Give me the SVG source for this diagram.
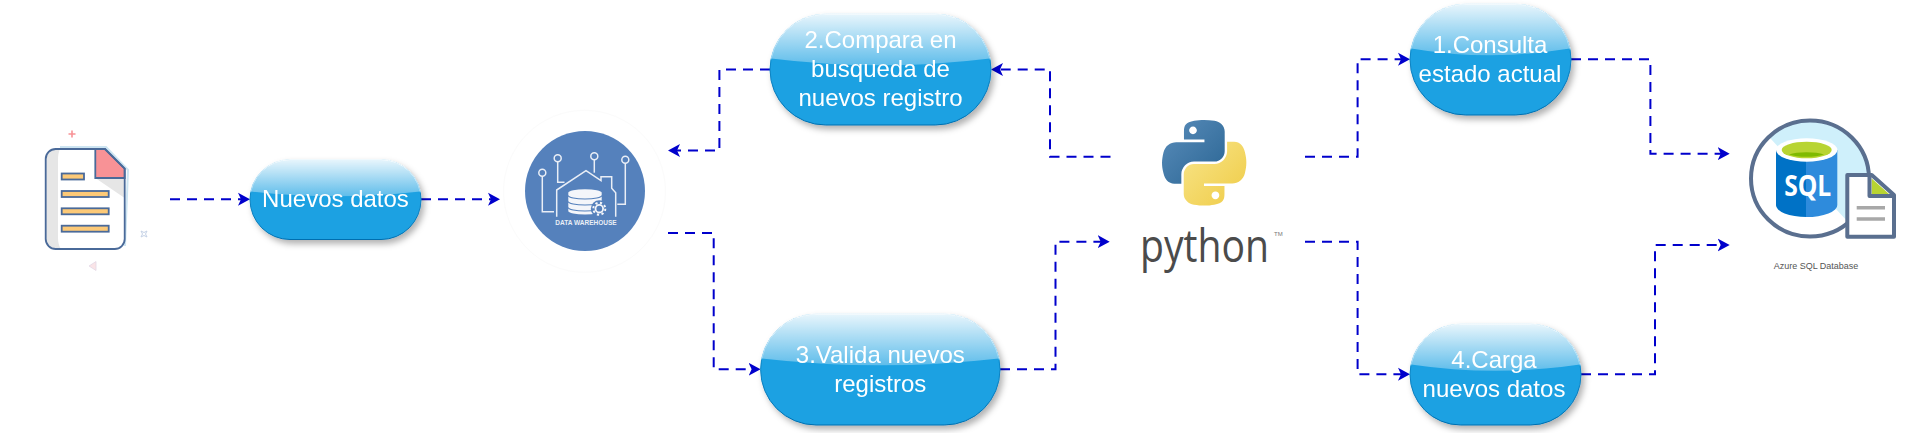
<svg xmlns="http://www.w3.org/2000/svg" width="1914" height="433" viewBox="0 0 1914 433">
  <style>
    .conn { fill: none; stroke: #0000CC; stroke-width: 2; stroke-dasharray: 10 7; marker-end: url(#arrow); }
    .pill { fill: #1BA1E2; stroke: url(#edge); stroke-width: 1; }
    .gloss { fill: url(#glass); }
    .label { font-family: "Liberation Sans", Arial, sans-serif; font-size: 24px; fill: #FFFFFF; text-anchor: middle; }
    .bar { fill: #FCC977; stroke: #4A6A99; stroke-width: 1.8; }
    .wire { fill: none; stroke: #E9EEF6; stroke-width: 1.5; }
    .sqlline { fill: none; stroke: #5A6F8F; stroke-width: 4; stroke-linejoin: round; }
  </style>
  <defs>
    <marker id="arrow" markerUnits="userSpaceOnUse" markerWidth="14" markerHeight="14" refX="9" refY="7" orient="auto">
      <path d="M0 0.5 L12 7 L0 13.5 L3 7 Z" fill="#0000CC"/>
    </marker>
    <linearGradient id="glass" x1="0" y1="0" x2="0" y2="1">
      <stop offset="0" stop-color="#FFFFFF" stop-opacity="0.9"/>
      <stop offset="1" stop-color="#FFFFFF" stop-opacity="0.3"/>
    </linearGradient>
    <linearGradient id="edge" x1="0" y1="0" x2="0" y2="1">
      <stop offset="0" stop-color="#E4F4FC"/>
      <stop offset="0.4" stop-color="#7CC8EE"/>
      <stop offset="0.42" stop-color="#0E88C8"/>
      <stop offset="1" stop-color="#006EAF"/>
    </linearGradient>
    <linearGradient id="pyblue" x1="0" y1="0" x2="1" y2="1">
      <stop offset="0" stop-color="#5A8DBB"/>
      <stop offset="1" stop-color="#2A6593"/>
    </linearGradient>
    <linearGradient id="pyyellow" x1="1" y1="1" x2="0" y2="0">
      <stop offset="0" stop-color="#F8E58A"/>
      <stop offset="1" stop-color="#EFCB45"/>
    </linearGradient>
    <filter id="shadow" x="-10%" y="-10%" width="125%" height="130%">
      <feDropShadow dx="3" dy="4" stdDeviation="3" flood-color="#000000" flood-opacity="0.3"/>
    </filter>
    <clipPath id="ringclip"><ellipse cx="1810" cy="178.5" rx="59" ry="58"/></clipPath>
  </defs>

  <g id="connectors">
    <path class="conn" d="M170 199.3 H247"/>
    <path class="conn" d="M421 199.3 H497"/>
    <path class="conn" d="M770 69.5 H719.4 V150.5 H671"/>
    <path class="conn" d="M1110.5 156.7 H1050 V69.5 H994"/>
    <path class="conn" d="M668 233 H713.7 V369.3 H757.6"/>
    <path class="conn" d="M1000 369.3 H1055.5 V241.7 H1106.7"/>
    <path class="conn" d="M1305 156.7 H1357.6 V59.3 H1407"/>
    <path class="conn" d="M1571 59.3 H1650.4 V153.7 H1726.7"/>
    <path class="conn" d="M1305 241.7 H1357.6 V374.3 H1407"/>
    <path class="conn" d="M1581 374.3 H1655 V245 H1726.7"/>
  </g>

  <g id="node-file">
    <path d="M60 147 H106 L128 170 L125 246" fill="none" stroke="#CDE5F2" stroke-width="2"/>
    <path d="M55.7 149 H105 L124.7 168.7 V239 A10 10 0 0 1 114.7 249 H55.7 A10 10 0 0 1 45.7 239 V159 A10 10 0 0 1 55.7 149 Z" fill="#FFFFFF"/>
    <path d="M55.7 149 H60 Q58 153 58 160 V238 Q58 245 61 249 H55.7 A10 10 0 0 1 45.7 239 V159 A10 10 0 0 1 55.7 149 Z" fill="#E6E6E6"/>
    <path d="M95.3 178 H124.7 V198 Z" fill="#E6E6E6"/>
    <path d="M95.3 149 H105 L124.7 168.7 V178 H95.3 Z" fill="#F89296" stroke="#4A6A99" stroke-width="1.8"/>
    <path d="M55.7 149 H105 L124.7 168.7 V239 A10 10 0 0 1 114.7 249 H55.7 A10 10 0 0 1 45.7 239 V159 A10 10 0 0 1 55.7 149 Z" fill="none" stroke="#4A6A99" stroke-width="1.8"/>
    <rect class="bar" x="61.7" y="173.5" width="22.3" height="6"/>
    <rect class="bar" x="61.7" y="191" width="47" height="6"/>
    <rect class="bar" x="61.7" y="208.3" width="47" height="6"/>
    <rect class="bar" x="61.7" y="225.7" width="47" height="6"/>
    <path d="M72 130.5 V137.5 M68.5 134 H75.5" stroke="#F89296" stroke-width="1.6" fill="none"/>
    <path d="M141 231 Q144 234 147 231 Q144 234 147 237 Q144 234 141 237 Q144 234 141 231 Z" fill="none" stroke="#C5D2E6" stroke-width="1"/>
    <path d="M89 266 L96 261.5 L96 270.5 Z" fill="#FAE4E7" stroke="#E2D8E6" stroke-width="0.8"/>
  </g>

  <g id="node-nuevos-datos" filter="url(#shadow)">
    <rect class="pill" x="250" y="159.5" width="171" height="80" rx="40" ry="40"/>
    <path class="gloss" d="M250.8 191.5 A40 40 0 0 1 290 159.5 H381 A40 40 0 0 1 420.2 191.5 Q335.5 201 250.8 191.5 Z"/>
    <text class="label" x="335.5" y="206.7">Nuevos datos</text>
  </g>

  <g id="node-data-warehouse">
    <circle cx="584.5" cy="191.3" r="81" fill="#FFFFFF" stroke="#FBFBFB" stroke-width="1"/>
    <circle cx="585" cy="191" r="60" fill="#5581BC"/>
    <circle class="wire" cx="542.3" cy="172.7" r="3.5"/>
    <circle class="wire" cx="557.7" cy="158.3" r="3.5"/>
    <circle class="wire" cx="594.3" cy="156.3" r="3.5"/>
    <circle class="wire" cx="625.3" cy="159.7" r="3.5"/>
    <path class="wire" d="M542.3 176.2 V211.7 H554"/>
    <path class="wire" d="M557.7 161.8 V182.3 H564.5"/>
    <path class="wire" d="M594.3 159.8 V172.7"/>
    <path class="wire" d="M625.3 163.2 V204.3 H617.3"/>
    <path class="wire" stroke-width="1.8" d="M556.7 216.7 V190 L586 170.7 L601 180.7 V176.7 H611.7 V188.3 L615.7 192.7 V216.7"/>
    <path d="M568.3 192.7 A16.7 3.5 0 0 1 601.7 192.7 V211 A16.7 3.5 0 0 1 568.3 211 Z" fill="#F4F6FA"/>
    <path d="M568.3 195.5 A16.7 3.5 0 0 0 601.7 195.5 M568.3 201.5 A16.7 3.5 0 0 0 601.7 201.5 M568.3 207.5 A16.7 3.5 0 0 0 601.7 207.5" fill="none" stroke="#5581BC" stroke-width="1.2"/>
    <circle cx="599.3" cy="208.7" r="8.5" fill="#5581BC"/>
    <circle cx="599.3" cy="208.7" r="3.8" fill="none" stroke="#F4F6FA" stroke-width="1.8"/>
    <circle cx="599.3" cy="208.7" r="6" fill="none" stroke="#F4F6FA" stroke-width="2" stroke-dasharray="2.2 2.5"/>
    <text x="586" y="225" font-family="'Liberation Sans', Arial, sans-serif" font-size="6.5" font-weight="bold" fill="#E9EEF6" text-anchor="middle">DATA WAREHOUSE</text>
  </g>

  <g id="node-compara" filter="url(#shadow)">
    <rect class="pill" x="770" y="14" width="221" height="111" rx="55.5" ry="55.5"/>
    <path class="gloss" d="M771.1 58.4 A55.5 55.5 0 0 1 825.5 14 H935.5 A55.5 55.5 0 0 1 989.9 58.4 Q880.5 72 771.1 58.4 Z"/>
    <text class="label" x="880.5" y="48">2.Compara en</text>
    <text class="label" x="880.5" y="77">busqueda de</text>
    <text class="label" x="880.5" y="106">nuevos registro</text>
  </g>

  <g id="node-valida" filter="url(#shadow)">
    <rect class="pill" x="760.6" y="314" width="239.4" height="111" rx="55.5" ry="55.5"/>
    <path class="gloss" d="M761.7 358.4 A55.5 55.5 0 0 1 816.1 314 H944.5 A55.5 55.5 0 0 1 998.9 358.4 Q880.3 372 761.7 358.4 Z"/>
    <text class="label" x="880.3" y="363">3.Valida nuevos</text>
    <text class="label" x="880.3" y="392">registros</text>
  </g>

  <g id="node-python">
    <g transform="translate(1161.7 120) scale(0.773 0.778)">
      <path fill="url(#pyblue)" d="M54.9 0 C50.3 0 45.9 0.4 42.1 1.1 C30.8 3.1 28.8 7.2 28.8 14.9 V25.1 H55.3 V28.5 H18.8 C11.1 28.5 4.4 33.1 2.3 41.9 C-0.1 51.9 -0.2 58.2 2.3 68.6 C4.2 76.4 8.6 81.9 16.3 81.9 H25.4 V69.9 C25.4 61.2 32.9 53.5 41.8 53.5 H68.3 C75.6 53.5 81.5 47.4 81.5 40.1 V14.9 C81.5 7.7 75.4 2.3 68.3 1.1 C63.7 0.4 59 0 54.9 0 Z M40.5 8.2 C43.2 8.2 45.5 10.5 45.5 13.3 C45.5 16 43.2 18.2 40.5 18.2 C37.7 18.2 35.5 16 35.5 13.3 C35.5 10.5 37.7 8.2 40.5 8.2 Z"/>
      <path fill="url(#pyyellow)" transform="rotate(180 55 55)" d="M54.9 0 C50.3 0 45.9 0.4 42.1 1.1 C30.8 3.1 28.8 7.2 28.8 14.9 V25.1 H55.3 V28.5 H18.8 C11.1 28.5 4.4 33.1 2.3 41.9 C-0.1 51.9 -0.2 58.2 2.3 68.6 C4.2 76.4 8.6 81.9 16.3 81.9 H25.4 V69.9 C25.4 61.2 32.9 53.5 41.8 53.5 H68.3 C75.6 53.5 81.5 47.4 81.5 40.1 V14.9 C81.5 7.7 75.4 2.3 68.3 1.1 C63.7 0.4 59 0 54.9 0 Z M40.5 8.2 C43.2 8.2 45.5 10.5 45.5 13.3 C45.5 16 43.2 18.2 40.5 18.2 C37.7 18.2 35.5 16 35.5 13.3 C35.5 10.5 37.7 8.2 40.5 8.2 Z"/>
    </g>
    <text transform="translate(1140 262) scale(0.87 1)" font-family="'Open Sans', 'Liberation Sans', sans-serif" font-size="45" font-weight="400" fill="#4B4B4B">python</text>
    <text x="1274" y="236" font-family="'Liberation Sans', Arial, sans-serif" font-size="6" fill="#777777">TM</text>
  </g>

  <g id="node-consulta" filter="url(#shadow)">
    <rect class="pill" x="1410" y="4" width="161" height="111" rx="55.5" ry="55.5"/>
    <path class="gloss" d="M1411.1 48.4 A55.5 55.5 0 0 1 1465.5 4 H1515.5 A55.5 55.5 0 0 1 1569.9 48.4 Q1490.5 62 1411.1 48.4 Z"/>
    <text class="label" x="1490" y="52.7">1.Consulta</text>
    <text class="label" x="1490" y="81.7">estado actual</text>
  </g>

  <g id="node-carga" filter="url(#shadow)">
    <rect class="pill" x="1410" y="324" width="171" height="101" rx="50.5" ry="50.5"/>
    <path class="gloss" d="M1411 364.4 A50.5 50.5 0 0 1 1460.5 324 H1530.5 A50.5 50.5 0 0 1 1580 364.4 Q1495.5 377 1411 364.4 Z"/>
    <text class="label" x="1494" y="368">4.Carga</text>
    <text class="label" x="1494" y="397">nuevos datos</text>
  </g>

  <g id="node-sql">
    <ellipse cx="1810" cy="178.5" rx="59" ry="58" fill="#FFFFFF"/>
    <path clip-path="url(#ringclip)" d="M1770 138 L1848 222 L1880 222 V110 H1770 Z" fill="#CFF0FB"/>
    <ellipse class="sqlline" cx="1810" cy="178.5" rx="59" ry="58"/>
    <path d="M1776 150 V205 A30.7 11.7 0 0 0 1806.5 217 V150 Z" fill="#0072C6"/>
    <path d="M1806 150 H1837.3 V205 A30.7 11.7 0 0 1 1806 217 Z" fill="#2E8BDC"/>
    <ellipse cx="1806.7" cy="150" rx="30.7" ry="11.7" fill="#FFFFFF"/>
    <ellipse cx="1806.7" cy="150" rx="25" ry="8.3" fill="#B8D432"/>
    <path d="M1789 154.5 A22 5.5 0 0 1 1824 154.5 A25 8.3 0 0 1 1789 154.5 Z" fill="#7FBA00"/>
    <text transform="translate(1807.7 196) scale(0.85 1)" font-family="'Open Sans', 'Liberation Sans', sans-serif" font-size="29" font-weight="700" fill="#FFFFFF" text-anchor="middle">SQL</text>
    <path class="sqlline" style="fill:#FFFFFF" d="M1847.3 175 H1871.7 L1894 195 V236.7 H1847.3 Z"/>
    <path d="M1871.7 178.5 V194 H1889 Z" fill="#B8D432"/>
    <path class="sqlline" d="M1869.5 175 V196 H1894"/>
    <path d="M1856.7 207.7 H1885 M1856.7 219 H1885" stroke="#A8A8A8" stroke-width="3.5" fill="none"/>
    <text x="1816" y="269" font-family="'Liberation Sans', Arial, sans-serif" font-size="9" fill="#555555" text-anchor="middle">Azure SQL Database</text>
  </g>
</svg>
